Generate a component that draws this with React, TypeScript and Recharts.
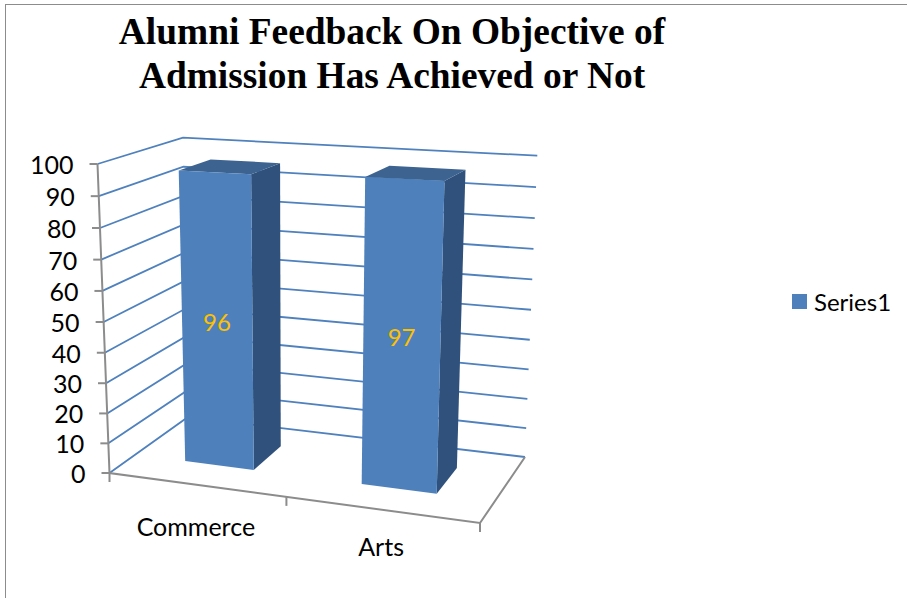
import { Bar, BarChart, LabelList, Legend, ReferenceLine, XAxis, YAxis } from "recharts";

const categories = ["Commerce", "Arts"];
const seriesValues = [96, 97];
const yTicks = [0, 10, 20, 30, 40, 50, 60, 70, 80, 90, 100];
const floorTicks = [0, 0.5, 1];
const titleLines = ["Alumni Feedback On Objective of", "Admission Has Achieved or Not"];

const data = categories.map((name, i) => ({ name, value: seriesValues[i] }));

const W = 907;
const H = 598;
const PLOT_LEFT = 109.5;
const PLOT_RIGHT = 480;
const PLOT_TOP = 164;
const PLOT_BOTTOM = 473;

const FONT = "Lato, 'Open Sans', sans-serif";
const GRID = "#4f81bd";
const AXIS = "#8c8c8c";
const FRONT = "#4e80bc";
const SIDE = "#30517b";
const TOP = "#3d6390";

// box corners on screen, [bottom, top]
const FL = [[109.5, 473], [97.5, 164]];
const FR = [[480, 523], [491, 183]];
const BL = [[188, 417], [183, 137.7]];
const BR = [[525, 457], [537.3, 155.7]];

const BAR_FRONT = 0.33;
const BAR_BACK = 0.73;

const lerp = (a: number, b: number, k: number) => a + (b - a) * k;

// fake the 3d view: u along categories, w into the depth, t up the value axis
function project(u: number, w: number, t: number) {
  const s = t - 0.045 * t * (1 - t);
  const v = u - 0.09 * u * (1 - u);
  const at = (c: number[][], i: number) => lerp(c[0][i], c[1][i], s);
  const pick = (i: number) =>
    lerp(lerp(at(FL, i), at(FR, i), v), lerp(at(BL, i), at(BR, i), v), w);
  return [pick(0), pick(1)];
}

const toT = (y: number) => (PLOT_BOTTOM - y) / (PLOT_BOTTOM - PLOT_TOP);
const toU = (x: number) => (x - PLOT_LEFT) / (PLOT_RIGHT - PLOT_LEFT);
const pts = (list: number[][]) => list.map((p) => p.join(",")).join(" ");

function GridShape(props: any) {
  const t = toT(props.y1);
  return (
    <polyline
      points={pts([project(0, 0, t), project(0, 1, t), project(1, 1, t)])}
      fill="none"
      stroke={GRID}
      strokeWidth={1.8}
    />
  );
}

function FrameShape() {
  return (
    <g fill="none" stroke={AXIS} strokeWidth={2}>
      <polyline points={pts([project(0, 0, 1), project(0, 0, 0), project(1, 0, 0), project(1, 1, 0)])} />
      {floorTicks.map((u) => {
        const [x, y] = project(u, 0, 0);
        return <line key={u} x1={x} y1={y} x2={x} y2={y + 9} />;
      })}
    </g>
  );
}

function YTick({ y, payload }: any) {
  const [ax, ay] = project(0, 0, toT(y));
  return (
    <g>
      <line x1={ax - 8} y1={ay} x2={ax} y2={ay} stroke={AXIS} strokeWidth={2} />
      <text x={ax - 24} y={ay + 10} textAnchor="end" fontFamily={FONT} fontSize={25} fill="#000">
        {payload.value}
      </text>
    </g>
  );
}

function XTick({ x, payload }: any) {
  const [px, py] = project(toU(x), 0, 0);
  const v = (px - PLOT_LEFT) / (PLOT_RIGHT - PLOT_LEFT);
  return (
    <text x={px} y={py + 54 - 10 * v} textAnchor="middle" fontFamily={FONT} fontSize={25} fill="#000">
      {payload.value}
    </text>
  );
}

function Bar3D({ x, y, width }: any) {
  const u0 = toU(x);
  const u1 = toU(x + width);
  const t = toT(y);
  const a = project(u0, BAR_FRONT, 0);
  const b = project(u1, BAR_FRONT, 0);
  const c = project(u1, BAR_FRONT, t);
  const d = project(u0, BAR_FRONT, t);
  const e = project(u1, BAR_BACK, 0);
  const f = project(u1, BAR_BACK, t);
  const g = project(u0, BAR_BACK, t);
  return (
    <g>
      <polygon points={pts([b, e, f, c])} fill={SIDE} />
      <polygon points={pts([d, c, f, g])} fill={TOP} />
      <polygon points={pts([a, b, c, d])} fill={FRONT} />
    </g>
  );
}

function BarValue({ x, y, width, value }: any) {
  const [px, py] = project(toU(x + width / 2), BAR_FRONT, toT(y) / 2);
  return (
    <text x={px} y={py + 9} textAnchor="middle" fontFamily={FONT} fontSize={24} fill="#ffc000">
      {value}
    </text>
  );
}

function LegendBox({ payload }: any) {
  return (
    <div style={{ display: "flex", alignItems: "center", fontFamily: FONT, fontSize: 24, color: "#000" }}>
      {(payload || []).map((p: any) => (
        <span key={p.value} style={{ display: "flex", alignItems: "center" }}>
          <span style={{ width: 15, height: 15, background: FRONT, marginRight: 7 }} />
          {p.value}
        </span>
      ))}
    </div>
  );
}

export default function App() {
  return (
    <div style={{ position: "absolute", left: 0, top: 0, width: W, height: H, background: "#fff", overflow: "hidden" }}>
      <div
        style={{
          position: "absolute",
          left: 5,
          top: 4,
          right: 0,
          bottom: 0,
          borderLeft: `1.5px solid ${AXIS}`,
          borderTop: `1.5px solid ${AXIS}`,
        }}
      />
      <div
        style={{
          position: "absolute",
          left: 92,
          top: 10,
          width: 600,
          textAlign: "center",
          fontFamily: "'Liberation Serif', serif",
          fontWeight: 700,
          fontSize: 37.4,
          lineHeight: "44px",
          color: "#000",
        }}
      >
        {titleLines.map((line) => (
          <div key={line}>{line}</div>
        ))}
      </div>
      <BarChart
        width={W}
        height={H}
        data={data}
        barCategoryGap="30%"
        margin={{ top: PLOT_TOP, right: W - PLOT_RIGHT, bottom: H - PLOT_BOTTOM - 30, left: 0 }}
        style={{ position: "absolute", left: 0, top: 0 }}
      >
        <XAxis dataKey="name" height={30} axisLine={false} tickLine={false} interval={0} tick={<XTick />} />
        <YAxis
          width={PLOT_LEFT}
          domain={[0, 100]}
          ticks={yTicks}
          interval={0}
          axisLine={false}
          tickLine={false}
          tick={<YTick />}
        />
        {yTicks.map((v) => (
          <ReferenceLine key={v} y={v} zIndex={100} shape={<GridShape />} />
        ))}
        <ReferenceLine y={0} zIndex={100} shape={<FrameShape />} />
        <Bar dataKey="value" name="Series1" shape={<Bar3D />} isAnimationActive={false}>
          <LabelList dataKey="value" content={<BarValue />} />
        </Bar>
        <Legend
          layout="horizontal"
          verticalAlign="middle"
          content={<LegendBox />}
          wrapperStyle={{ left: 792, top: 287, width: 115, height: 34 }}
        />
      </BarChart>
    </div>
  );
}
